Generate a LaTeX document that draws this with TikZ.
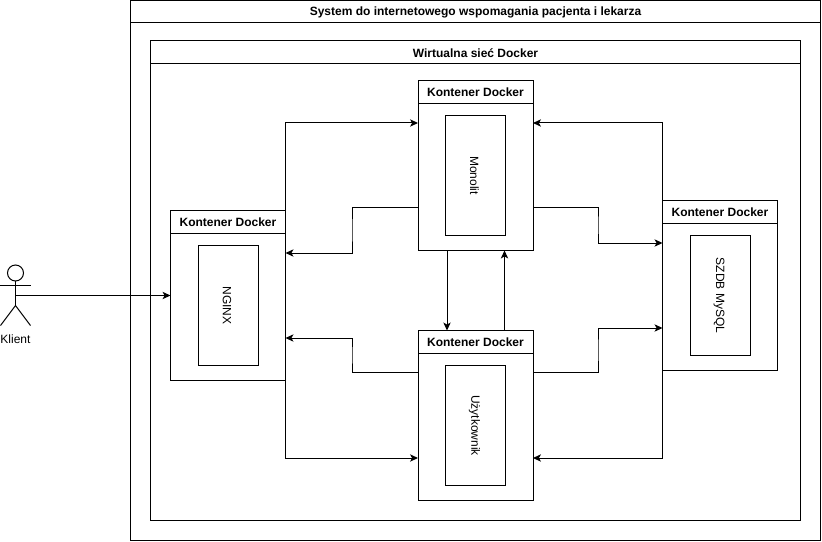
\documentclass[tikz,border=0pt]{standalone}
\usepackage{fontspec}
\setmainfont{Liberation Sans}
\usetikzlibrary{arrows.meta}
\tikzset{
  frame/.style={draw=black,line width=0.75pt,rectangle,inner sep=0pt,outer sep=0pt},
  frametitle/.style={font=\fontsize{9}{11}\selectfont\bfseries,inner sep=0pt},
  contbox/.style={frame,minimum width=86.25pt,minimum height=127.5pt},
  conthead/.style={frame,minimum width=86.25pt,minimum height=17.25pt},
  conttitle/.style={font=\fontsize{9}{11}\selectfont\bfseries,inner sep=0pt},
  innerbox/.style={frame,minimum width=45pt,minimum height=90pt},
  innerlabel/.style={font=\fontsize{9}{11}\selectfont,rotate=-90,inner sep=0pt},
  conn/.style={draw=black,line width=0.75pt,-{Stealth[length=6pt,width=5.5pt,inset=1.6pt]}},
  actorline/.style={draw=black,line width=0.75pt}
}
\begin{document}
\begin{tikzpicture}[x=0.75pt,y=-0.75pt]
\useasboundingbox (0,0) rectangle (822,542);
% outer frames
\node[frame,minimum width=517.5pt,minimum height=405pt] (sys) at (475.5,270.5) {};
\node[frame,minimum width=517.5pt,minimum height=16.5pt] (syshead) at (475.5,11.5) {};
\node[frametitle] (systitle) at (475.5,12.5) {System do internetowego wspomagania pacjenta i lekarza};
\node[frame,minimum width=487.5pt,minimum height=360pt] (net) at (475.5,280.5) {};
\node[frame,minimum width=487.5pt,minimum height=17.25pt] (nethead) at (475.5,52) {};
\node[frametitle] (nettitle) at (475.5,53) {Wirtualna sieć Docker};
% containers
\node[contbox] (nginx) at (228,295.5) {};
\node[conthead] (nginxh) at (228,222) {};
\node[conttitle] (nginxt) at (228,222.5) {Kontener Docker};
\node[innerbox] (nginxi) at (228,305.5) {};
\node[innerlabel] (nginxl) at (227,305.5) {NGINX};
\node[contbox] (mono) at (475.5,165.5) {};
\node[conthead] (monoh) at (475.5,92) {};
\node[conttitle] (monot) at (475.5,92.5) {Kontener Docker};
\node[innerbox] (monoi) at (475.5,175.5) {};
\node[innerlabel] (monol) at (474.5,175.5) {Monolit};
\node[contbox] (user) at (475.5,415.5) {};
\node[conthead] (userh) at (475.5,342) {};
\node[conttitle] (usert) at (475.5,342.5) {Kontener Docker};
\node[innerbox] (useri) at (475.5,425.5) {};
\node[innerlabel] (userl) at (474.5,425.5) {Użytkownik};
\node[contbox] (db) at (720,285.5) {};
\node[conthead] (dbh) at (720,212) {};
\node[conttitle] (dbt) at (720,212.5) {Kontener Docker};
\node[innerbox] (dbi) at (720,295.5) {};
\node[innerlabel] (dbl) at (719,295.5) {SZDB MySQL};
% actor
\node[frame,circle,minimum size=12pt] (head) at (15.5,273) {};
\coordinate (hip) at (15.5,305.5);
\coordinate (armL) at (0.5,285.5);
\coordinate (armR) at (30.5,285.5);
\coordinate (legL) at (0.5,325.5);
\coordinate (legR) at (30.5,325.5);
\coordinate (hand) at (15.5,295.5);
\draw[actorline] (head.south) -- (hip);
\draw[actorline] (armL) -- (armR);
\draw[actorline] (legL) -- (hip) -- (legR);
\node[font=\fontsize{9}{11}\selectfont,inner sep=0pt] (klient) at (15.5,339) {Klient};
% ports
\coordinate (monoA) at (418,123);
\coordinate (monoB) at (533,123);
\coordinate (monoC) at (418,207.5);
\coordinate (monoD) at (533,207.5);
\coordinate (monoE) at (447,250.5);
\coordinate (monoF) at (504.5,250.5);
\coordinate (userA) at (418,458);
\coordinate (userB) at (533,458);
\coordinate (userC) at (418,372.8);
\coordinate (userD) at (533,372.8);
\coordinate (userE) at (447,330.5);
\coordinate (userF) at (504.5,330.5);
\coordinate (nginxA) at (285.5,253);
\coordinate (nginxB) at (285.5,338);
\coordinate (dbA) at (662.5,243);
\coordinate (dbB) at (662.5,328);
\coordinate (midLa) at (352,230);
\coordinate (midLb) at (352,355);
\coordinate (midRa) at (598,225);
\coordinate (midRb) at (598,350);
% connectors
\draw[conn] (hand) -- (nginx.west);
\draw[conn] (nginx.east) |- (monoA);
\draw[conn] (nginx.east) |- (userA);
\draw[conn] (db.west) |- (monoB);
\draw[conn] (db.west) |- (userB);
\draw[conn] (monoC) -| (midLa) |- (nginxA);
\draw[conn] (userC) -| (midLb) |- (nginxB);
\draw[conn] (monoD) -| (midRa) |- (dbA);
\draw[conn] (userD) -| (midRb) |- (dbB);
\draw[conn] (monoE) -- (userE);
\draw[conn] (userF) -- (monoF);
\end{tikzpicture}
\end{document}
